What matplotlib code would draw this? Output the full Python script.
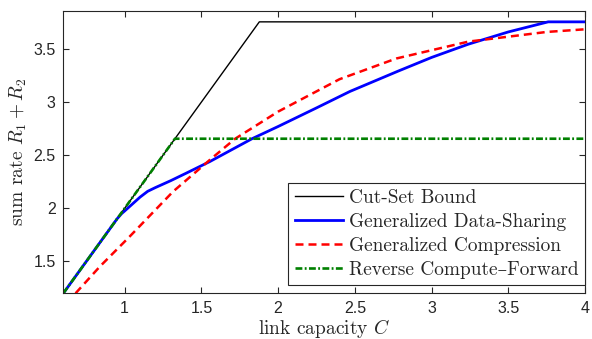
import matplotlib
matplotlib.use("Agg")
import matplotlib.pyplot as plt

# ---- data ----
cutset_C = [0.6, 1.8775, 4.0]
cutset_R = [1.2, 3.755, 3.755]

gds_C = [0.6, 0.95, 0.98, 1.0, 1.05, 1.1, 1.15, 1.2, 1.3, 1.4, 1.555, 1.83, 2.0,
         2.25, 2.468, 2.78, 3.0, 3.24, 3.5, 3.76, 4.0]
gds_R = [1.2, 1.9, 1.95, 1.975, 2.04, 2.105, 2.16, 2.195, 2.26, 2.33, 2.44, 2.655, 2.77,
         2.945, 3.1, 3.29, 3.42, 3.545, 3.66, 3.755, 3.755]

gc_C = [0.68, 0.837, 1.033, 1.315, 1.555, 1.72, 2.0, 2.4, 2.77, 3.24, 3.75, 4.0]
gc_R = [1.2, 1.45, 1.735, 2.157, 2.456, 2.655, 2.91, 3.215, 3.41, 3.569, 3.66, 3.685]

rcf_C = [0.6, 1.3275, 4.0]
rcf_R = [1.2, 2.655, 2.655]

labels = ["Cut-Set Bound", "Generalized Data-Sharing",
          "Generalized Compression", "Reverse Compute\u2013Forward"]
xticks = [1, 1.5, 2, 2.5, 3, 3.5, 4]
xticklabels = ["1", "1.5", "2", "2.5", "3", "3.5", "4"]
yticks = [1.5, 2, 2.5, 3, 3.5]
yticklabels = ["1.5", "2", "2.5", "3", "3.5"]

plt.rcParams['mathtext.fontset'] = 'cm'
plt.rcParams['axes.unicode_minus'] = False
serif = ['cmr10', 'DejaVu Serif']

fig = plt.figure(figsize=(5.92, 3.39), dpi=100)
ax = fig.add_axes([63.3/592, 1 - 293.3/339, (585 - 63.3)/592, (293.3 - 10.7)/339])

axc = (0.15, 0.15, 0.15)
ax.plot(cutset_C, cutset_R, color='black', lw=1.0, label=labels[0])
ax.plot(gds_C, gds_R, color='blue', lw=2.0, label=labels[1])
ax.plot(gc_C, gc_R, color='red', lw=1.8, dashes=(3.2, 2.0), label=labels[2])
ax.plot(rcf_C, rcf_R, color=(0, 0.5, 0), lw=1.9, dashes=(2.6, 0.9, 0.7, 0.9), label=labels[3])

ax.set_xlim(0.6, 4.0)
ax.set_ylim(1.2, 3.86)
ax.set_xticks(xticks)
ax.set_xticklabels(xticklabels)
ax.set_yticks(yticks)
ax.set_yticklabels(yticklabels)

for sp in ax.spines.values():
    sp.set_color(axc)
    sp.set_linewidth(0.8)
ax.tick_params(direction='in', length=4, width=0.8, colors=axc, top=True, right=True,
               labelsize=11.5, pad=5.5)
for t in ax.get_xticklabels() + ax.get_yticklabels():
    t.set_fontfamily('Liberation Sans')
    t.set_color(axc)

ax.set_ylabel(r"sum rate $R_1 + R_2$", fontfamily=serif, fontsize=14, color=axc, labelpad=3)
ax.set_xlabel(r"link capacity $C$", fontfamily=serif, fontsize=14, color=axc, labelpad=1)

leg = ax.legend(loc='lower right', bbox_to_anchor=(1.0, 0.028), borderaxespad=0,
                prop={'family': serif, 'size': 13.9}, frameon=True, fancybox=False,
                handlelength=2.5, handletextpad=0.3, labelspacing=0.3,
                borderpad=0.35)
leg.get_frame().set_edgecolor(axc)
leg.get_frame().set_linewidth(0.8)
leg.get_frame().set_alpha(1)
for t in leg.get_texts():
    t.set_color(axc)

fig.savefig("out.png", dpi=100)
